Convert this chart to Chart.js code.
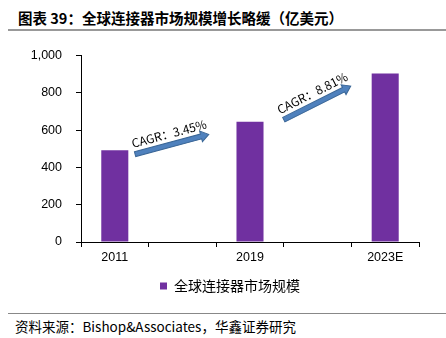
<!DOCTYPE html>
<html>
<head>
<meta charset="utf-8">
<script src="https://cdn.jsdelivr.net/npm/chart.js@4/dist/chart.umd.min.js"></script>
<style>
  body { margin: 0; background: #fff; width: 446px; height: 338px; position: relative; overflow: hidden; }
  #title { position: absolute; left: 18px; top: 7px; font: bold 14.5px "Noto Sans CJK SC", sans-serif; color: #000; white-space: nowrap; }
  #topLine { position: absolute; left: 8px; right: 0; top: 29px; height: 2px; background: #999; }
  #wrap { position: absolute; left: 0; top: 34px; width: 446px; height: 272px; }
  #bottomLine { position: absolute; left: 8px; right: 0; top: 313px; height: 1px; background: #888; }
  #source { position: absolute; left: 15px; top: 316px; font: 13.5px "Noto Sans CJK SC", sans-serif; color: #000; white-space: nowrap; }
</style>
</head>
<body>
<div id="title">图表 39：全球连接器市场规模增长略缓（亿美元）</div>
<div id="topLine"></div>
<div id="wrap"><canvas id="myChart"></canvas></div>
<div id="bottomLine"></div>
<div id="source">资料来源：Bishop&amp;Associates，华鑫证券研究</div>
<script>
// categories (the empty slots hold the CAGR arrows)
const years = ['2011', '', '2019', '', '2023E'];
const marketSize = [492, null, 645, null, 904];
const seriesName = '全球连接器市场规模';
const yTicks = [0, 200, 400, 600, 800, 1000];
const cagrText = ['CAGR：3.45%', 'CAGR：8.81%'];

// arrows in data units: [x from, y from, x to, y to]
const arrows = [
    [0.30, 471, 1.39, 577],
    [2.50, 656, 3.49, 836]
];

const arrowPlugin = {
    id: 'cagrArrows',
    afterDatasetsDraw(chart) {
        const c = chart.ctx;
        const xs = chart.scales.x, ys = chart.scales.y;
        arrows.forEach((a, i) => {
            const x1 = xs.getPixelForValue(a[0]), y1 = ys.getPixelForValue(a[1]);
            const x2 = xs.getPixelForValue(a[2]), y2 = ys.getPixelForValue(a[3]);
            const ang = Math.atan2(y2 - y1, x2 - x1);
            const len = Math.hypot(x2 - x1, y2 - y1);
            c.save();
            c.translate(x1, y1);
            c.rotate(ang);
            // shaft + head
            const sw = 2.5, hw = 5.5, hl = 8;
            c.beginPath();
            c.moveTo(0, -sw);
            c.lineTo(len - hl, -sw);
            c.lineTo(len - hl, -hw);
            c.lineTo(len, 0);
            c.lineTo(len - hl, hw);
            c.lineTo(len - hl, sw);
            c.lineTo(0, sw);
            c.closePath();
            c.fillStyle = '#4F81BD';
            c.fill();
            c.strokeStyle = '#3A6696';
            c.lineWidth = 1;
            c.stroke();
            // label
            c.font = '12px "Noto Sans CJK SC", sans-serif';
            c.fillStyle = '#000';
            c.textAlign = 'center';
            c.textBaseline = 'bottom';
            c.fillText(cagrText[i], len / 2, -5);
            c.restore();
        });
    }
};

const ctx = document.getElementById('myChart').getContext('2d');
const myChart = new Chart(ctx, {
    type: 'bar',
    data: {
        labels: years,
        datasets: [{
            label: seriesName,
            data: marketSize,
            backgroundColor: '#7030A0',
            borderWidth: 0,
            barPercentage: 0.4,
            categoryPercentage: 1
        }]
    },
    options: {
        responsive: true,
        maintainAspectRatio: false,
        animation: false,
        layout: { padding: { left: 14, right: 0, top: 19, bottom: 3 } },
        plugins: {
            legend: {
                position: 'bottom',
                labels: {
                    boxWidth: 7,
                    boxHeight: 7,
                    padding: 10,
                    color: '#000',
                    font: { family: '"Noto Sans CJK SC", sans-serif', size: 14 }
                }
            },
            tooltip: { enabled: false }
        },
        scales: {
            x: {
                offset: true,
                grid: { display: true, drawOnChartArea: false, offset: true, tickLength: 5, color: '#000' },
                border: { display: true, color: '#000', width: 1 },
                ticks: {
                    color: '#000',
                    padding: 3,
                    maxRotation: 0,
                    font: { family: '"Liberation Sans", Arial, sans-serif', size: 12.5 }
                },
                afterFit: (s) => { s.height = 27; }
            },
            y: {
                min: 0,
                max: 1000,
                afterBuildTicks: (s) => { s.ticks = yTicks.map(v => ({ value: v })); },
                grid: { display: true, drawOnChartArea: false, tickLength: 5, color: '#000' },
                border: { display: true, color: '#000', width: 1 },
                ticks: {
                    color: '#000',
                    padding: 14,
                    font: { family: '"Liberation Sans", Arial, sans-serif', size: 12.5 },
                    callback: (v) => v.toLocaleString('en-US')
                },
                afterFit: (s) => { s.width = 67; }
            },
            // blank right-hand margin
            yRight: {
                position: 'right',
                grid: { display: false },
                border: { display: false },
                ticks: { display: false },
                afterFit: (s) => { s.width = 27; }
            }
        }
    },
    plugins: [arrowPlugin]
});
</script>
</body>
</html>
